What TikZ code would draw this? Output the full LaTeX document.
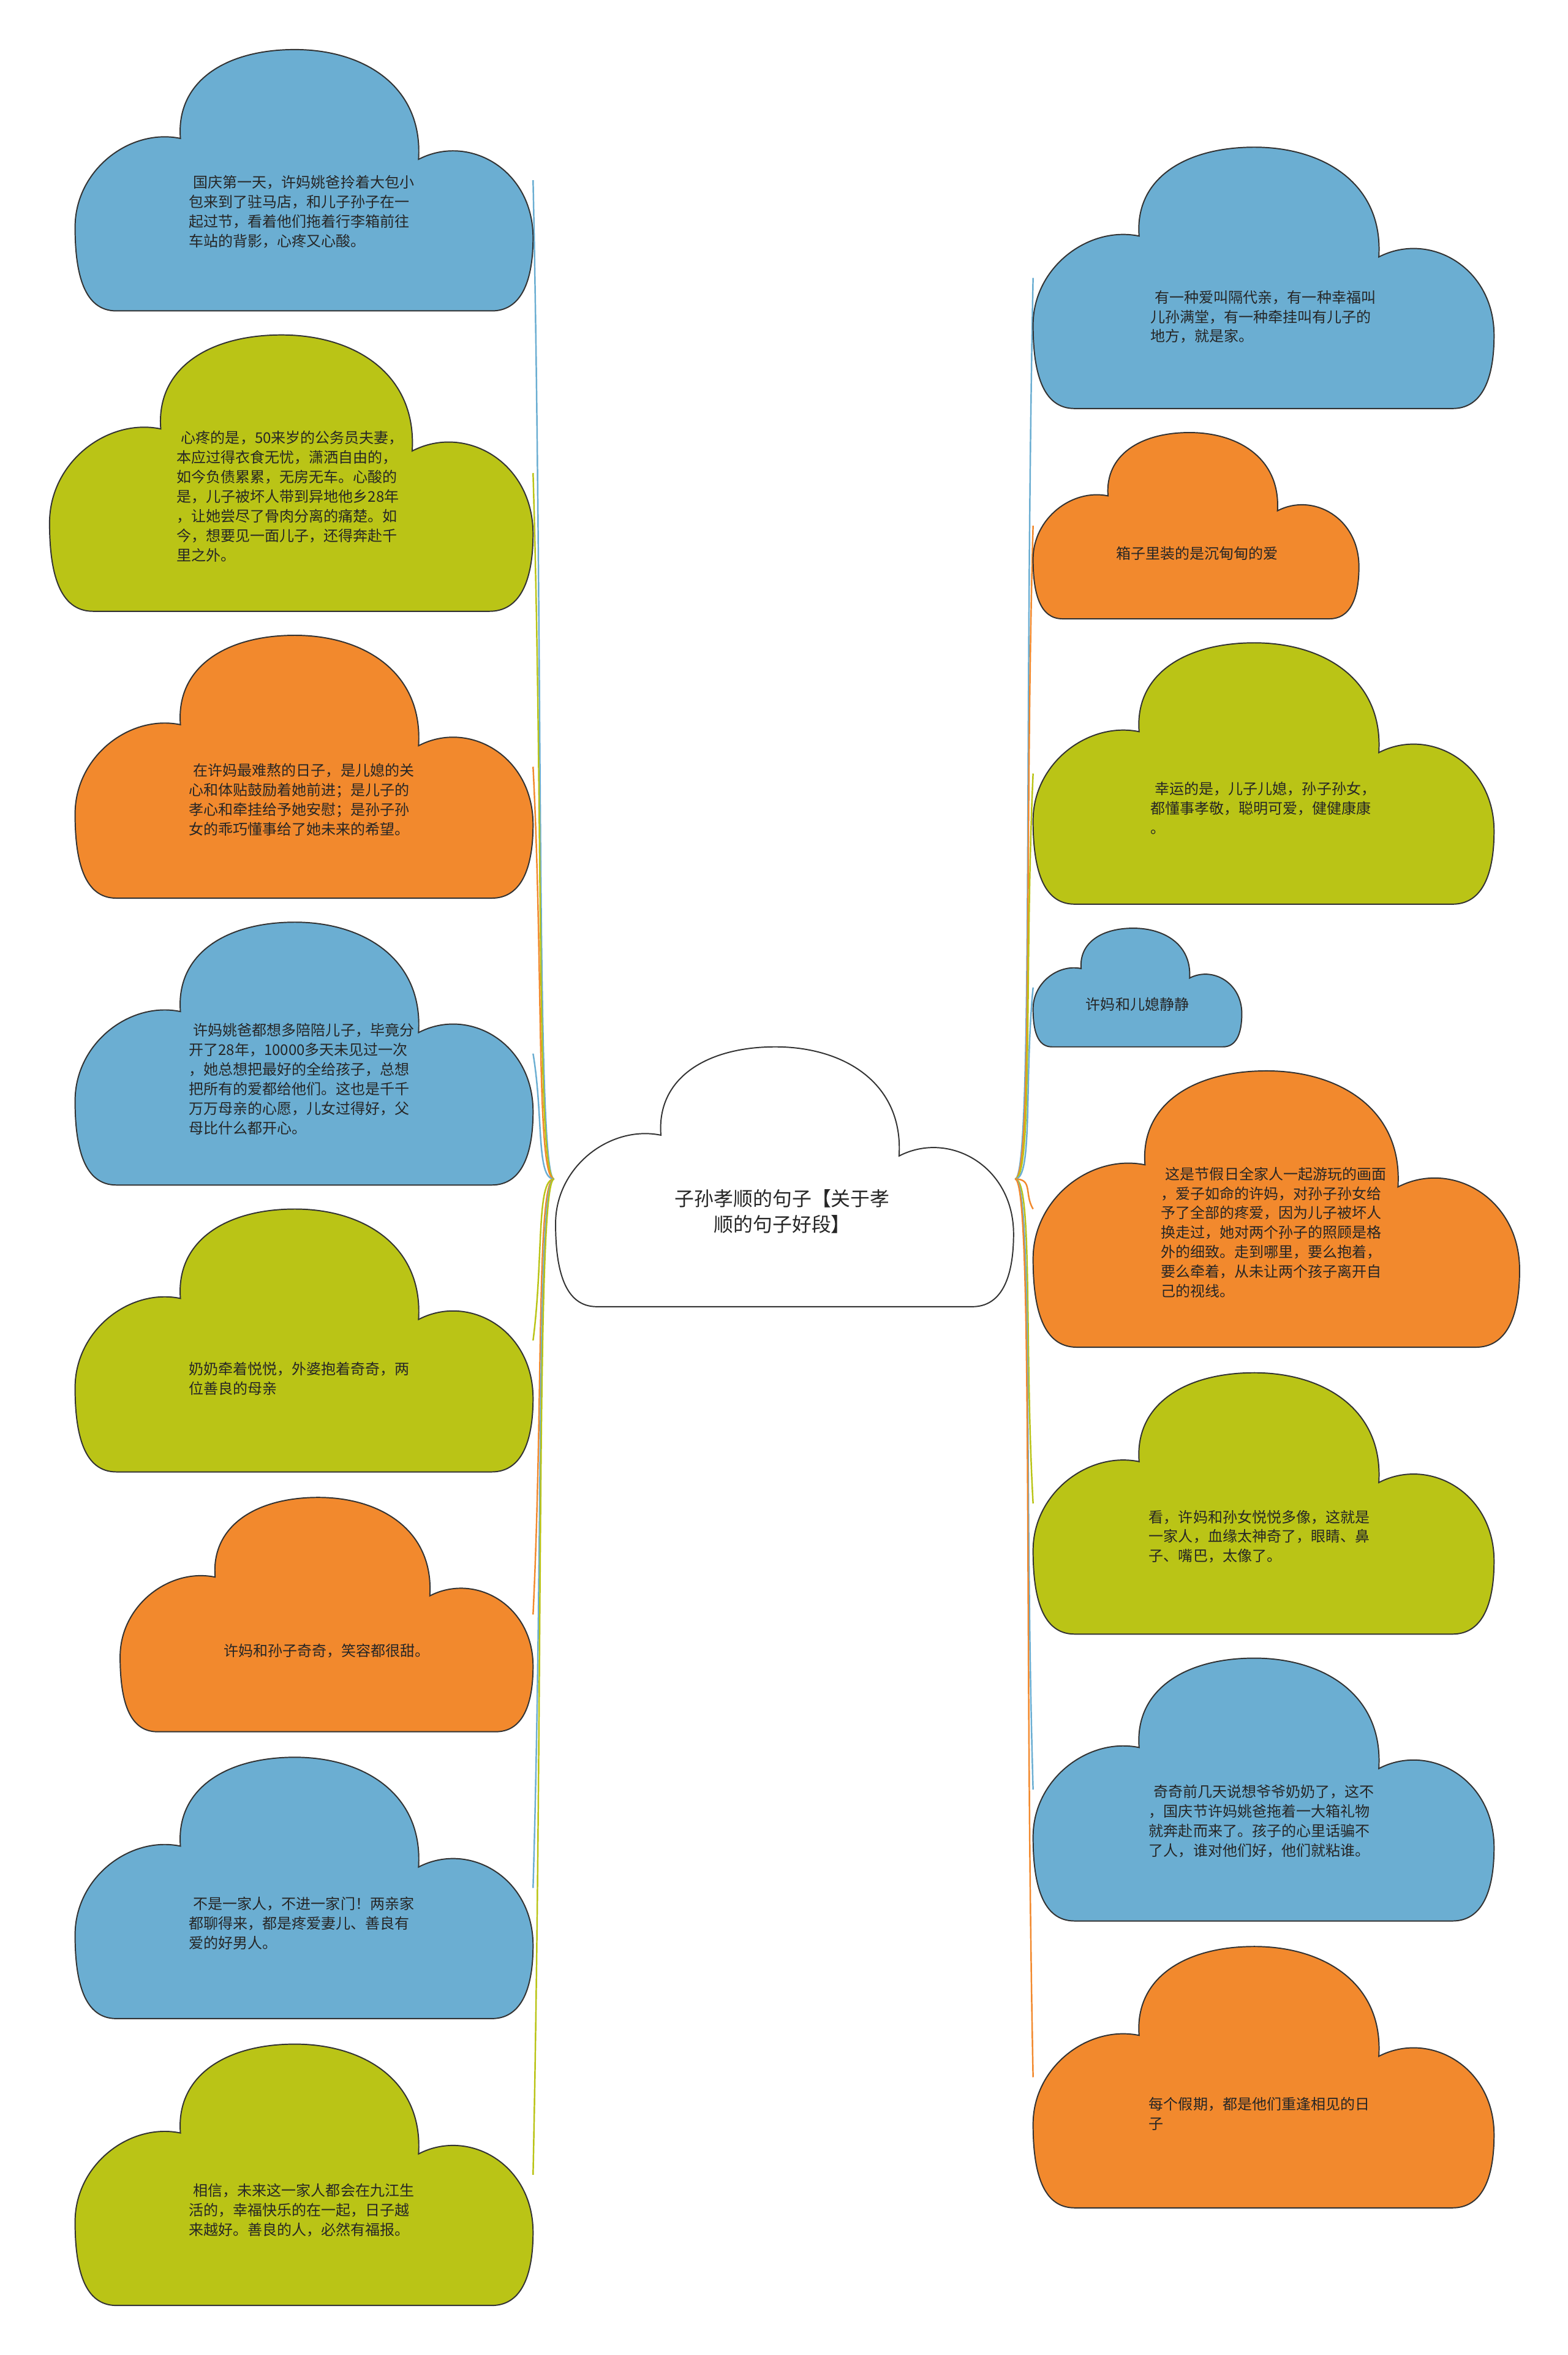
\documentclass[tikz,border=0pt]{standalone}
\usepackage{fontspec}
\setmainfont{Noto Sans CJK SC}
\usetikzlibrary{calc}

\definecolor{cblue}{RGB}{107,174,210}
\definecolor{cgreen}{RGB}{186,196,22}
\definecolor{corange}{RGB}{242,137,45}

\tikzset{
  cloudline/.style={draw=black!80, line width=0.8pt},
  conn/.style={line width=1pt},
  leaf/.style={anchor=west, align=left, inner sep=0pt, text=black!85,
    font=\fontsize{9.8}{13}\selectfont},
  root/.style={align=center, inner sep=0pt, text=black!85,
    font=\fontsize{13}{17}\selectfont}
}

% cloud outline: left x, top y, width, height, fill
\newcommand{\cloudat}[5]{%
  \begin{scope}[shift={(#1,#2)},xscale=#3,yscale=#4]
    \draw[cloudline,fill=#5] (0.09,1) .. controls (0.02,1) and (0,0.86) .. (0,0.68)
      .. controls (0,0.46) and (0.12,0.3) .. (0.23,0.34)
      .. controls (0.22,0.12) and (0.33,0) .. (0.48,0)
      .. controls (0.63,0) and (0.76,0.14) .. (0.75,0.42)
      .. controls (0.86,0.32) and (1,0.46) .. (1,0.72)
      .. controls (1,0.9) and (0.97,1) .. (0.91,1) -- cycle;
  \end{scope}}

\begin{document}
\begin{tikzpicture}[x=1pt,y=-1pt]
  \fill[white] (0,0) rectangle (1044,1568);
  \useasboundingbox (0,0) rectangle (1044,1568);

  \coordinate (cl) at (369,785);
  \coordinate (cr) at (676,785);
  % ends of the branches
  \coordinate (l1e) at (355,120);
  \coordinate (l2e) at (355,315);
  \coordinate (l3e) at (355,510.5);
  \coordinate (l4e) at (355,701.5);
  \coordinate (l5e) at (355,892.5);
  \coordinate (l6e) at (355,1075);
  \coordinate (l7e) at (355,1257);
  \coordinate (l8e) at (355,1448);
  \coordinate (r1e) at (688,185);
  \coordinate (r2e) at (688,350);
  \coordinate (r3e) at (688,515);
  \coordinate (r4e) at (688,657.5);
  \coordinate (r5e) at (688,805);
  \coordinate (r6e) at (688,1001);
  \coordinate (r7e) at (688,1191.5);
  \coordinate (r8e) at (688,1383);

  \foreach \n/\c in {l1e/cblue,l2e/cgreen,l3e/corange,l4e/cblue,
                     l5e/cgreen,l6e/corange,l7e/cblue,l8e/cgreen}
    \draw[conn,\c] (cl) .. controls +(-12,0) and ($(\n)!0.5!(cl)$) .. (\n);
  \foreach \n/\c in {r1e/cblue,r2e/corange,r3e/cgreen,r4e/cblue,
                     r5e/corange,r6e/cgreen,r7e/cblue,r8e/corange}
    \draw[conn,\c] (cr) .. controls +(12,0) and ($(\n)!0.5!(cr)$) .. (\n);

  % centre
  \cloudat{370}{697}{305}{173}{white}
  \node[root] (root) at (521,806.5) {子孙孝顺的句子【关于孝\\顺的句子好段】};

  % left side
  \cloudat{50}{33}{305}{174}{cblue}
  \node[leaf] (l1) at (125.6,141) {\hspace{3pt}国庆第一天，许妈姚爸拎着大包小\\包来到了驻马店，和儿子孙子在一\\起过节，看着他们拖着行李箱前往\\车站的背影，心疼又心酸。};
  \cloudat{33}{223}{322}{184}{cgreen}
  \node[leaf] (l2) at (117.5,330.5) {\hspace{3pt}心疼的是，50来岁的公务员夫妻，\\本应过得衣食无忧，潇洒自由的，\\如今负债累累，无房无车。心酸的\\是，儿子被坏人带到异地他乡28年\\，让她尝尽了骨肉分离的痛楚。如\\今，想要见一面儿子，还得奔赴千\\里之外。};
  \cloudat{50}{423}{305}{175}{corange}
  \node[leaf] (l3) at (125.6,532.5) {\hspace{3pt}在许妈最难熬的日子，是儿媳的关\\心和体贴鼓励着她前进；是儿子的\\孝心和牵挂给予她安慰；是孙子孙\\女的乖巧懂事给了她未来的希望。};
  \cloudat{50}{614}{305}{175}{cblue}
  \node[leaf] (l4) at (125.6,718.5) {\hspace{3pt}许妈姚爸都想多陪陪儿子，毕竟分\\开了28年，10000多天未见过一次\\，她总想把最好的全给孩子，总想\\把所有的爱都给他们。这也是千千\\万万母亲的心愿，儿女过得好，父\\母比什么都开心。};
  \cloudat{50}{805}{305}{175}{cgreen}
  \node[leaf] (l5) at (125.6,918) {奶奶牵着悦悦，外婆抱着奇奇，两\\位善良的母亲};
  \cloudat{80}{997}{275}{156}{corange}
  \node[leaf] (l6) at (148.9,1099) {许妈和孙子奇奇，笑容都很甜。};
  \cloudat{50}{1170}{305}{174}{cblue}
  \node[leaf] (l7) at (125.6,1280.5) {\hspace{3pt}不是一家人，不进一家门！两亲家\\都聊得来，都是疼爱妻儿、善良有\\爱的好男人。};
  \cloudat{50}{1361}{305}{174}{cgreen}
  \node[leaf] (l8) at (125.6,1471.7) {\hspace{3pt}相信，未来这一家人都会在九江生\\活的，幸福快乐的在一起，日子越\\来越好。善良的人，必然有福报。};

  % right side
  \cloudat{688}{98}{307}{174}{cblue}
  \node[leaf] (r1) at (766,211) {\hspace{3pt}有一种爱叫隔代亲，有一种幸福叫\\儿孙满堂，有一种牵挂叫有儿子的\\地方，就是家。};
  \cloudat{688}{288}{217}{124}{corange}
  \node[leaf] (r2) at (743,368.3) {箱子里装的是沉甸甸的爱};
  \cloudat{688}{428}{307}{174}{cgreen}
  \node[leaf] (r3) at (766,538) {\hspace{3pt}幸运的是，儿子儿媳，孙子孙女，\\都懂事孝敬，聪明可爱，健健康康\\。};
  \cloudat{688}{618}{139}{79}{cblue}
  \node[leaf] (r4) at (723,668.8) {许妈和儿媳静静};
  \cloudat{688}{713}{324}{184}{corange}
  \node[leaf] (r5) at (773,820.5) {\hspace{3pt}这是节假日全家人一起游玩的画面\\，爱子如命的许妈，对孙子孙女给\\予了全部的疼爱，因为儿子被坏人\\换走过，她对两个孙子的照顾是格\\外的细致。走到哪里，要么抱着，\\要么牵着，从未让两个孩子离开自\\己的视线。};
  \cloudat{688}{914}{307}{174}{cgreen}
  \node[leaf] (r6) at (765,1023) {看，许妈和孙女悦悦多像，这就是\\一家人，血缘太神奇了，眼睛、鼻\\子、嘴巴，太像了。};
  \cloudat{688}{1104}{307}{175}{cblue}
  \node[leaf] (r7) at (765,1212.5) {\hspace{3pt}奇奇前几天说想爷爷奶奶了，这不\\，国庆节许妈姚爸拖着一大箱礼物\\就奔赴而来了。孩子的心里话骗不\\了人，谁对他们好，他们就粘谁。};
  \cloudat{688}{1296}{307}{174}{corange}
  \node[leaf] (r8) at (765,1407.5) {每个假期，都是他们重逢相见的日\\子};
\end{tikzpicture}
\end{document}
